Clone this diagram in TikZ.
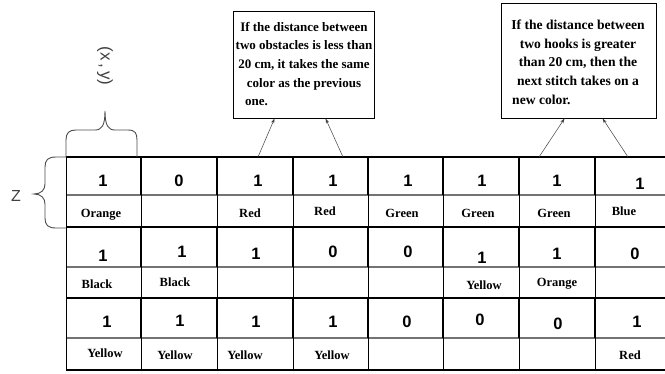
\documentclass[tikz,border=0pt]{standalone}
\usepackage{fontspec}
\setmainfont{Liberation Serif}
\newfontfamily\arialf{Liberation Sans}
\usetikzlibrary{arrows.meta}
\begin{document}
\begin{tikzpicture}[x=1pt,y=-1pt,
  num/.style={font=\arialf\bfseries\fontsize{16.5}{16.5}\selectfont, inner sep=0pt},
  lab/.style={font=\bfseries\fontsize{12.5}{12.5}\selectfont, inner sep=0pt, text depth=0pt},
  vthin/.style={line width=0.9pt},
  vbold/.style={line width=1.9pt},
  midline/.style={line width=1.7pt, draw=black!55},
  edgeline/.style={line width=1.1pt},
  note/.style={draw, line width=0.9pt, inner sep=0pt},
  notetext/.style={font=\bfseries\fontsize{13}{18.6}\selectfont, align=center, inner sep=0pt},
  arr/.style={-{Stealth[length=5pt,width=3.2pt]}, line width=0.5pt, draw=black!75},
  bracestyle/.style={draw=black!70, line width=0.9pt},
  sidelab/.style={font=\arialf\fontsize{16}{16}\selectfont, text=black!75, inner sep=0pt}
]
\useasboundingbox (0,0) rectangle (665,373);

% callout boxes
\node[note, minimum width=141pt, minimum height=107pt] (box1) at (303.5,64.5) {};
\node[notetext, anchor=north] (t1) at (304,22) {If the distance between\\two obstacles is less than\\20 cm, it takes the same\\color as the previous};
\node[notetext, anchor=base west] (t1b) at (245,105) {one.};
\node[note, minimum width=155pt, minimum height=115pt] (box2) at (578.5,60.5) {};
\node[notetext, font=\bfseries\fontsize{13.6}{18.6}\selectfont, anchor=north] (t2) at (578,20) {If the distance between\\two hooks is greater\\than 20 cm, then the\\next stitch takes on a};
\node[notetext, font=\bfseries\fontsize{13.6}{18.6}\selectfont, anchor=base west] (t2b) at (512,104) {new color.};

% table grid
\draw[edgeline] (66,157) -- (665,157);
\draw[midline] (66,195) -- (665,195);
\draw[edgeline] (66,227) -- (665,227);
\draw[midline] (66,267) -- (665,267);
\draw[line width=1.4pt] (66,298) -- (665,298);
\draw[midline] (66,338) -- (665,338);
\draw[edgeline] (66,370) -- (665,370);
\draw[vthin] (66,157) -- (66,370);
\foreach \xx in {141,217,293,368,443,519,595}{
  \draw[vbold] (\xx,157) -- (\xx,195);
  \draw[vthin] (\xx,195) -- (\xx,227);
  \draw[vbold] (\xx,227) -- (\xx,267);
  \draw[vthin] (\xx,267) -- (\xx,298);
  \draw[vbold] (\xx,298) -- (\xx,338);
  \draw[vthin] (\xx,338) -- (\xx,370);
}

% arrow start points on the table top
\coordinate (a1) at (258,157);
\coordinate (a2) at (343,157);
\coordinate (a3) at (539,157);
\coordinate (a4) at (628,157);
\draw[arr] (a1) -- ([xshift=42pt]box1.south west);
\draw[arr] (a2) -- ([xshift=93pt]box1.south west);
\draw[arr] (a3) -- ([xshift=64pt]box2.south west);
\draw[arr] (a4) -- ([xshift=102pt]box2.south west);

% numbers
\foreach \px/\py/\tx/\nm in {
  103/181/1/n11, 179/181/0/n12, 258/181/1/n13, 333/181/1/n14, 408/181/1/n15, 482/181/1/n16, 557/181/1/n17, 640/184/1/n18,
  103/256/1/n21, 182/252/1/n22, 256/254/1/n23, 333/252/0/n24, 408/252/0/n25, 482/258/1/n26, 557/254/1/n27, 635/254/0/n28,
  107/322/1/n31, 180/321/1/n32, 256/322/1/n33, 333/322/1/n34, 407/322/0/n35, 480/320/0/n36, 558/324/0/n37, 637/322/1/n38}
  \node[num] (\nm) at (\px,\py) {\tx};

% colour labels
\foreach \px/\py/\tx/\nm in {
  101/213/Orange/l11, 250/213/Red/l13, 325/211/Red/l14, 402/213/Green/l15, 478/213/Green/l16, 554/213/Green/l17, 624/211/Blue/l18,
  97/284/Black/l21, 175/282/Black/l22, 484/285/Yellow/l26, 557/282/Orange/l27,
  105/353/Yellow/l31, 175/355/Yellow/l32, 245/355/Yellow/l33, 332/355/Yellow/l34, 630/355/Red/l38}
  \node[lab] (\nm) at (\px,\py) {\tx};

% braces
\draw[bracestyle] (66,157) -- (56,157) .. controls (48,157) and (45,160) .. (45,167) -- (45,184)
  .. controls (45,190) and (41,194) .. (34,194) .. controls (41,194) and (45,198) .. (45,204)
  -- (45,218) .. controls (45,225) and (48,228) .. (56,228) -- (66,228);
\draw[bracestyle] (66,157) -- (66,140) .. controls (66,133) and (69,130) .. (76,130) -- (95,130)
  .. controls (102,130) and (105,125) .. (105,111) .. controls (105,125) and (108,130) .. (115,130)
  -- (128,130) .. controls (135,130) and (137,133) .. (137,140) -- (137,157);

\node[sidelab] (zlab) at (16,196) {Z};
\node[sidelab, font=\arialf\fontsize{17}{17}\selectfont, rotate=-90] (xylab) at (105,66) {(x\,,\,y)};
\end{tikzpicture}
\end{document}
